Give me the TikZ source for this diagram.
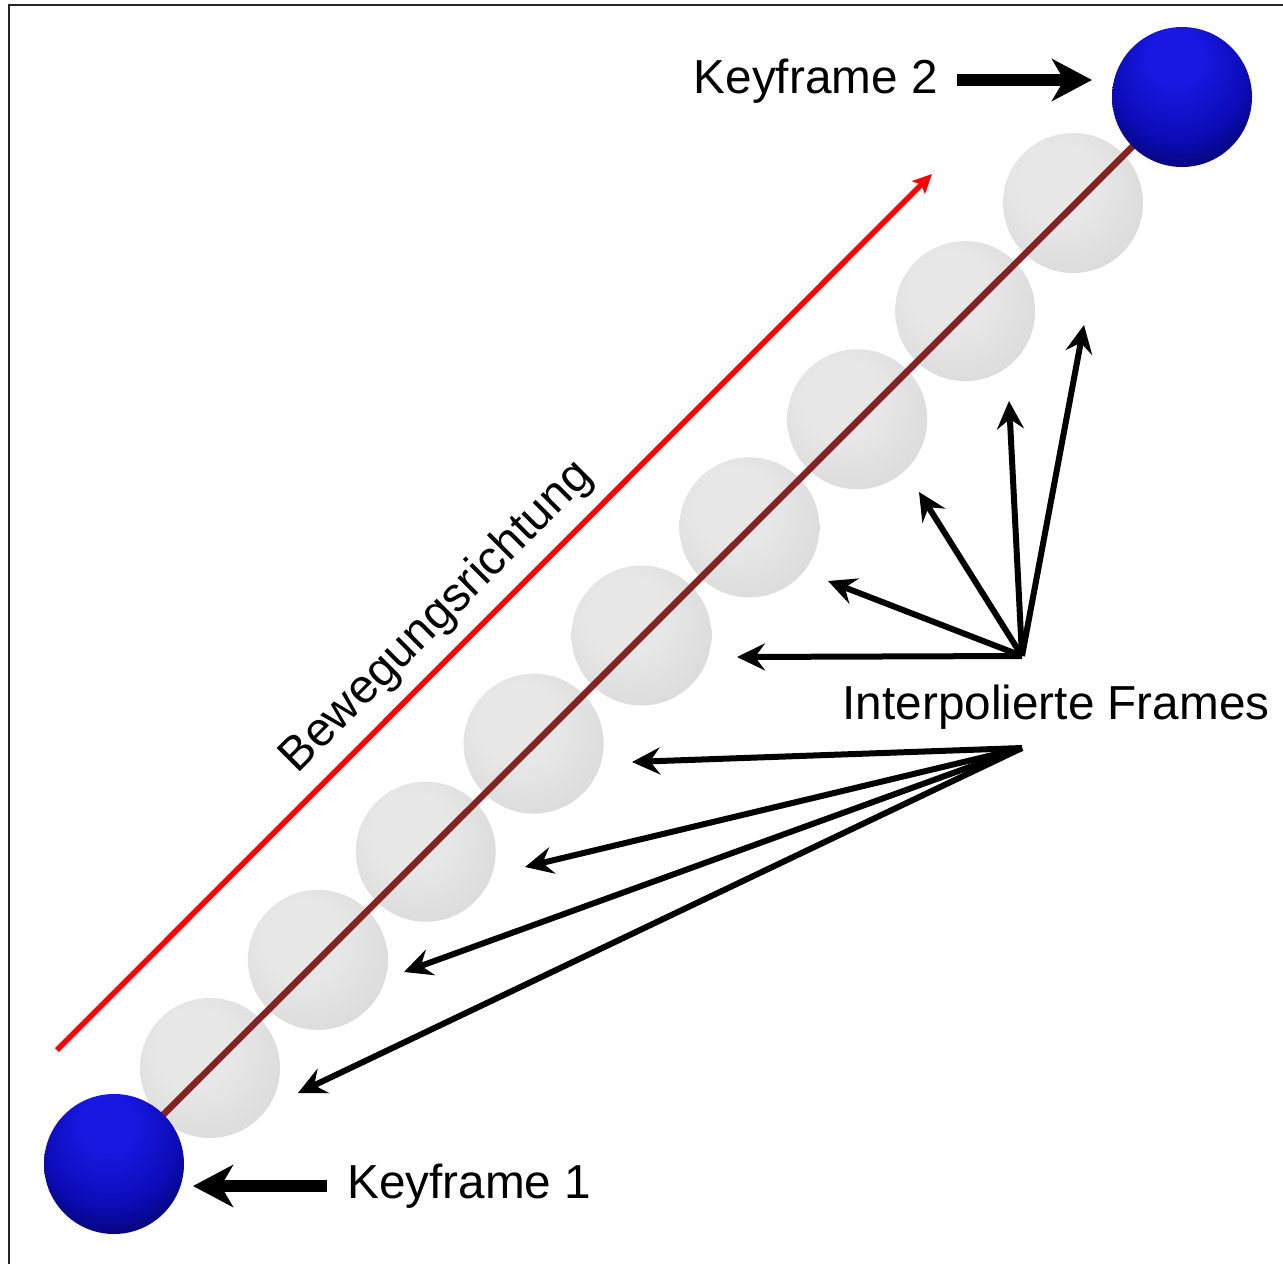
\documentclass[tikz,border=0pt]{standalone}
\usepackage{fontspec}
\setmainfont{Liberation Sans}
\usetikzlibrary{arrows.meta}

\pgfdeclarelayer{paper}
\pgfdeclarelayer{spheres}
\pgfdeclarelayer{rodlayer}
\pgfsetlayers{paper,spheres,rodlayer,main}

% light grey shading for the interpolated frames
\definecolor{gw0}{RGB}{231,231,231}
\definecolor{gw1}{RGB}{220,220,220}
\definecolor{gw2}{RGB}{202,202,202}
\definecolor{gw3}{RGB}{182,182,182}
\pgfdeclareradialshading{greyball}{\pgfpoint{-8bp}{10bp}}{%
  color(0bp)=(gw0); color(14bp)=(gw0); color(30bp)=(gw1);
  color(43bp)=(gw2); color(50bp)=(gw3)}

% deep blue shading for the keyframes
\definecolor{bb0}{RGB}{24,24,225}
\definecolor{bb1}{RGB}{12,12,185}
\definecolor{bb2}{RGB}{4,4,110}
\definecolor{bb3}{RGB}{0,0,40}
\definecolor{bb4}{RGB}{2,2,10}
\pgfdeclareradialshading{blueball}{\pgfpoint{-3bp}{18bp}}{%
  color(0bp)=(bb0); color(10bp)=(bb0); color(24bp)=(bb1);
  color(34bp)=(bb2); color(43bp)=(bb3); color(50bp)=(bb4)}

\definecolor{rodred}{RGB}{132,36,34}

\tikzset{
  ipframe/.style={circle, minimum size=140pt, inner sep=0pt, shade, shading=greyball},
  keyball/.style={circle, minimum size=140pt, inner sep=0pt, shade, shading=blueball},
  rod/.style={line width=6.5pt, draw=rodred},
  txt/.style={font=\fontsize{47.7pt}{57pt}\selectfont, inner sep=0pt, text=black},
  keyarrow/.style={line width=12pt, -{Stealth[length=40pt,width=42pt,inset=12pt]}},
  pointer/.style={line width=6pt, -{Stealth[length=28pt,width=27pt,inset=10pt]}},
  direction/.style={draw=red, line width=5.5pt, -{Stealth[length=19pt,width=18pt,inset=4pt]}}
}

\begin{document}
\begin{tikzpicture}[x=1pt, y=-1pt]
  \useasboundingbox (0,0) rectangle (1283,1264);
  \begin{pgfonlayer}{paper}
    \fill[white] (0,0) rectangle (1283,1264);
  \end{pgfonlayer}

  % frame lines
  \draw[line width=2.4pt, black!85] (9,1264) -- (9,5) -- (1283,5);

  % keyframes
  \node[keyball] (kf2) at (1182,97) {};
  \node[keyball] (kf1) at (114,1164) {};

  % interpolated frames
  \begin{pgfonlayer}{spheres}
    \foreach \i in {1,...,9} {
      \node[ipframe] (f\i) at ({1073-107.875*(\i-1)},{203+108.125*(\i-1)}) {};
    }
  \end{pgfonlayer}

  % connecting rod
  \begin{pgfonlayer}{rodlayer}
    \draw[rod] (kf2.center) -- (kf1.center);
  \end{pgfonlayer}

  % direction of motion
  \coordinate (dirstart) at (57,1050);
  \coordinate (dirend) at (932,174);
  \draw[direction] (dirstart) -- (dirend);
  \node[txt, rotate=45, anchor=base west] (dirtxt) at (297.5,774.5) {Bewegungsrichtung};

  % keyframe labels
  \node[txt, anchor=base west] (k2txt) at (693.5,93) {Keyframe 2};
  \node[txt, anchor=base west] (k1txt) at (347,1198) {Keyframe 1};
  \coordinate (k2tail) at (957,80);
  \coordinate (k2tip) at (1092,80);
  \coordinate (k1tail) at (327,1186);
  \coordinate (k1tip) at (193,1186);
  \draw[keyarrow] (k2tail) -- (k2tip);
  \draw[keyarrow] (k1tail) -- (k1tip);

  % interpolated frames label and pointers
  \node[txt, anchor=base west] (iptxt) at (842.5,719) {Interpolierte Frames};
  \coordinate (fanup) at (1022,656);
  \coordinate (fanlow) at (1022,748);

  \coordinate (p1) at (1084,325);
  \coordinate (p2) at (1009,401);
  \coordinate (p3) at (919,492);
  \coordinate (p4) at (828,581);
  \coordinate (p5) at (737,657);
  \coordinate (p6) at (632,762);
  \coordinate (p7) at (525,867);
  \coordinate (p8) at (404,972);
  \coordinate (p9) at (298,1093);

  \foreach \p in {p1,p2,p3,p4,p5} \draw[pointer] (fanup) -- (\p);
  \foreach \p in {p6,p7,p8,p9} \draw[pointer] (fanlow) -- (\p);
\end{tikzpicture}
\end{document}
